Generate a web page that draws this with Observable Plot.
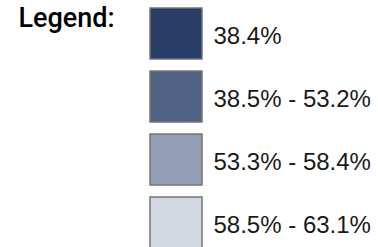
<!DOCTYPE html>
<html><head><meta charset="utf-8">
<script src="https://cdn.jsdelivr.net/npm/d3@7"></script>
<script src="https://cdn.jsdelivr.net/npm/@observablehq/plot@0.6"></script>
<style>body{margin:0;background:#fff}</style>
</head><body>
<div id="chart"></div>
<script>
const title = "Legend:";
const labels = ["38.4%", "38.5% - 53.2%", "53.3% - 58.4%", "58.5% - 63.1%"];
const colors = ["#283d68", "#506385", "#929eb5", "#d3d8e0"];

const rows = labels.map((label, i) => ({label, color: colors[i]}));

const chart = Plot.plot({
  width: 378,
  height: 247,
  margin: 0,
  style: {fontFamily: "Liberation Sans, Arial, sans-serif", background: "#fff"},
  x: {type: "band", domain: ["swatch"], range: [150, 202], padding: 0, axis: null},
  y: {type: "band", domain: labels, range: [7, 248], paddingInner: 0.194, paddingOuter: 0, axis: null},
  color: {type: "identity"},
  marks: [
    Plot.cell(rows, {x: () => "swatch", y: "label", fill: "color", stroke: "#767676", strokeWidth: 1.5, inset: 0}),
    Plot.text(rows, {x: () => "swatch", y: "label", text: "label", textAnchor: "start", dx: 37, dy: 2, fontSize: 24, fill: "#1a1a1a"}),
    Plot.text([title], {frameAnchor: "top-left", text: d => d, dx: 18, dy: 7, fontSize: 27, fontWeight: 500, fontFamily: "Roboto, Liberation Sans, sans-serif", fill: "#000", lineAnchor: "top"})
  ]
});
document.getElementById("chart").appendChild(chart);
</script>
</body></html>
